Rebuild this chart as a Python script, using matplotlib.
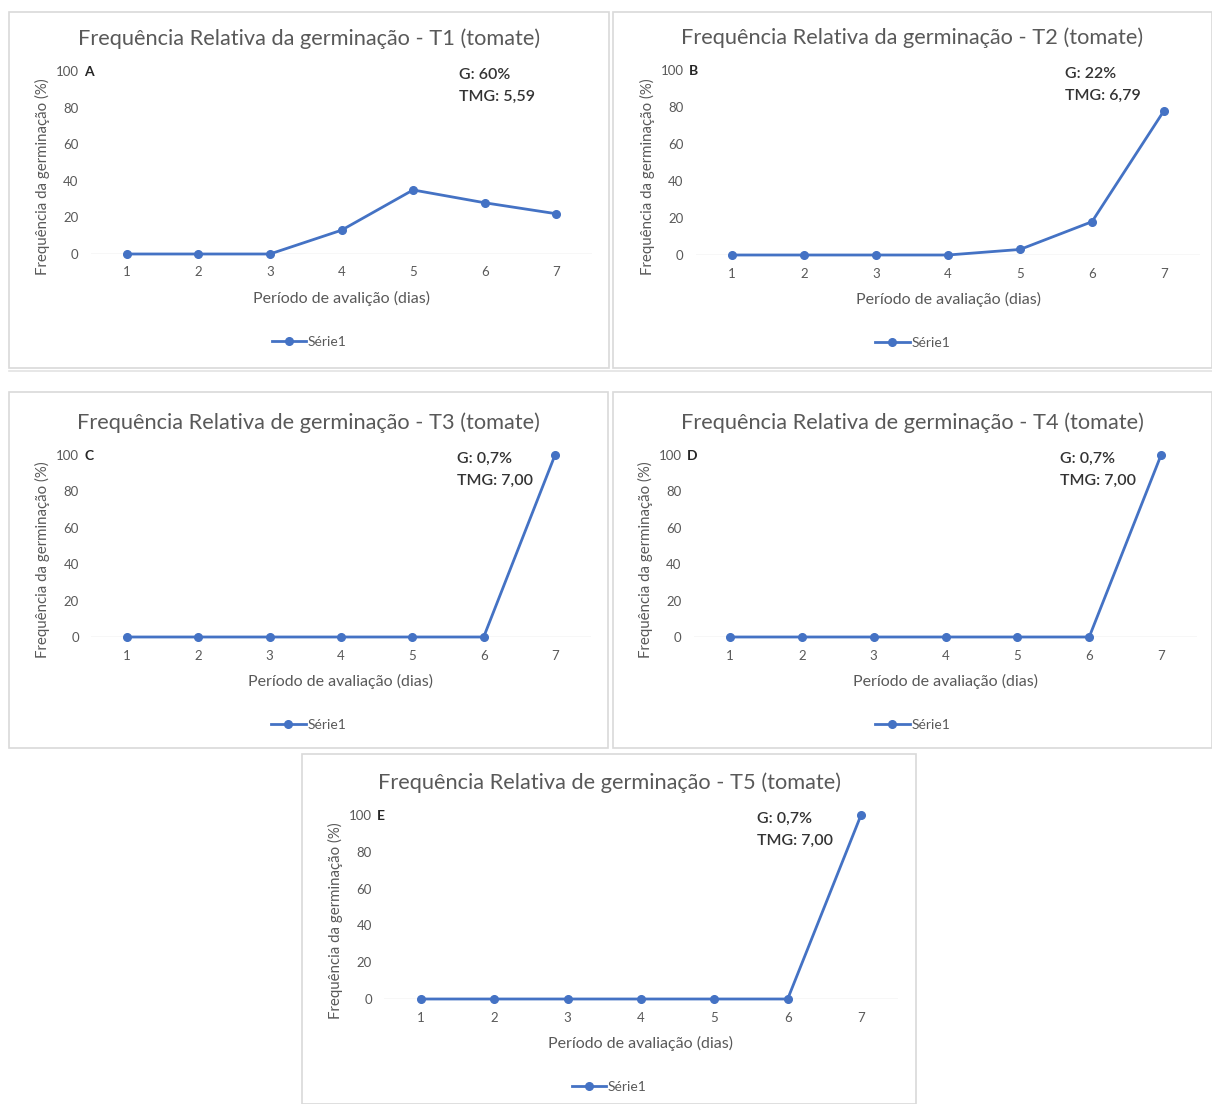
import matplotlib
matplotlib.use("Agg")
import matplotlib.pyplot as plt
from matplotlib.patches import Rectangle

plt.rcParams["font.family"] = ["Lato", "DejaVu Sans"]

W, H = 1212, 1104

days = [1, 2, 3, 4, 5, 6, 7]
yticks = [0, 20, 40, 60, 80, 100]

t1 = [0, 0, 0, 13, 35, 28, 22]
t2 = [0, 0, 0, 0, 3, 18, 78]
t3 = [0, 0, 0, 0, 0, 0, 100]
t4 = [0, 0, 0, 0, 0, 0, 100]
t5 = [0, 0, 0, 0, 0, 0, 100]

titles = [
    "Frequência Relativa da germinação - T1 (tomate)",
    "Frequência Relativa da germinação - T2 (tomate)",
    "Frequência Relativa de germinação - T3 (tomate)",
    "Frequência Relativa de germinação - T4 (tomate)",
    "Frequência Relativa de germinação - T5 (tomate)",
]
xlabels = [
    "Período de avalição (dias)",
    "Período de avaliação (dias)",
    "Período de avaliação (dias)",
    "Período de avaliação (dias)",
    "Período de avaliação (dias)",
]
letters = ["A", "B", "C", "D", "E"]
germ = ["G: 60%", "G: 22%", "G: 0,7%", "G: 0,7%", "G: 0,7%"]
tmg = ["TMG: 5,59", "TMG: 6,79", "TMG: 7,00", "TMG: 7,00", "TMG: 7,00"]
series = [t1, t2, t3, t4, t5]
ylabel = "Frequência da germinação (%)"
legend_label = "Série1"

# pixel layout: panel box (x0, y0, x1, y1), plot area (left, top, right, bottom),
# x offset of the G/TMG note from the plot's right edge
layout = [
    ((9, 12, 609, 368), (91, 71, 592, 254), 133),
    ((613, 12, 1212, 368), (696, 70, 1200, 255), 135),
    ((9, 392, 608, 748), (91.3, 455, 590.7, 637), 134),
    ((613, 392, 1212, 748), (694, 455, 1197, 637), 137),
    ((302, 754, 916, 1104), (384.3, 815, 897.7, 999), 141),
]

BLUE = "#4472C4"
GREY = "#595959"
DARK = "#333333"


def fx(px):
    return px / W


def fy(py):
    return 1 - py / H


fig = plt.figure(figsize=(W / 100, H / 100), dpi=100)

# faint separator under the top row
fig.add_artist(plt.Line2D([fx(9), fx(1212)], [fy(371), fy(371)],
                          color="#e3e3e3", lw=1.2))

for i, (box, area, note_dx) in enumerate(layout):
    bx0, by0, bx1, by1 = box
    fig.add_artist(Rectangle((fx(bx0), fy(by1)), fx(bx1 - bx0), (by1 - by0) / H,
                             fill=False, edgecolor="#d9d9d9", lw=1.2))
    left, top, right, bottom = area
    ax = fig.add_axes([fx(left), fy(bottom), fx(right - left), (bottom - top) / H])
    ax.plot(days, series[i], color=BLUE, lw=2.0, marker="o", ms=5.5,
            clip_on=False, label=legend_label, zorder=3)
    ax.axhline(0, color="#d9d9d9", lw=1.0, zorder=1)
    ax.set_xlim(0.5, 7.5)
    ax.set_ylim(0, 100)
    ax.set_xticks(days)
    ax.set_yticks(yticks)
    ax.tick_params(length=0, labelsize=9.5, labelcolor=GREY)
    ax.tick_params(axis="x", pad=9)
    ax.tick_params(axis="y", pad=9)
    for s in ax.spines.values():
        s.set_visible(False)
    ax.patch.set_alpha(0)

    cx = (bx0 + bx1) / 2
    fig.text(fx(cx), fy(top - 32), titles[i], ha="center", va="center",
             fontsize=15.7, color=GREY)
    fig.text(fx(left - 49), fy((top + bottom) / 2 + 14), ylabel, rotation=90,
             ha="center", va="center", fontsize=10.8, color=GREY)
    fig.text(fx((left + right) / 2), fy(bottom + 44), xlabels[i], ha="center",
             va="center", fontsize=11.5, color=GREY)
    fig.text(fx(left - 7), fy(top + 1), letters[i], ha="left", va="center",
             fontsize=10, fontweight="bold", color="#262626")
    fig.text(fx(right - note_dx), fy(top + 4), germ[i], ha="left", va="center",
             fontsize=11.5, fontweight=600, color=DARK)
    fig.text(fx(right - note_dx), fy(top + 26), tmg[i], ha="left", va="center",
             fontsize=11.5, fontweight=600, color=DARK)
    ax.legend(loc="center", bbox_to_anchor=(fx(cx), fy(bottom + 88)),
              bbox_transform=fig.transFigure, frameon=False, fontsize=10,
              labelcolor=GREY, handlelength=2.5, handletextpad=0.1)

fig.savefig("out.png", dpi=100, facecolor="white")
